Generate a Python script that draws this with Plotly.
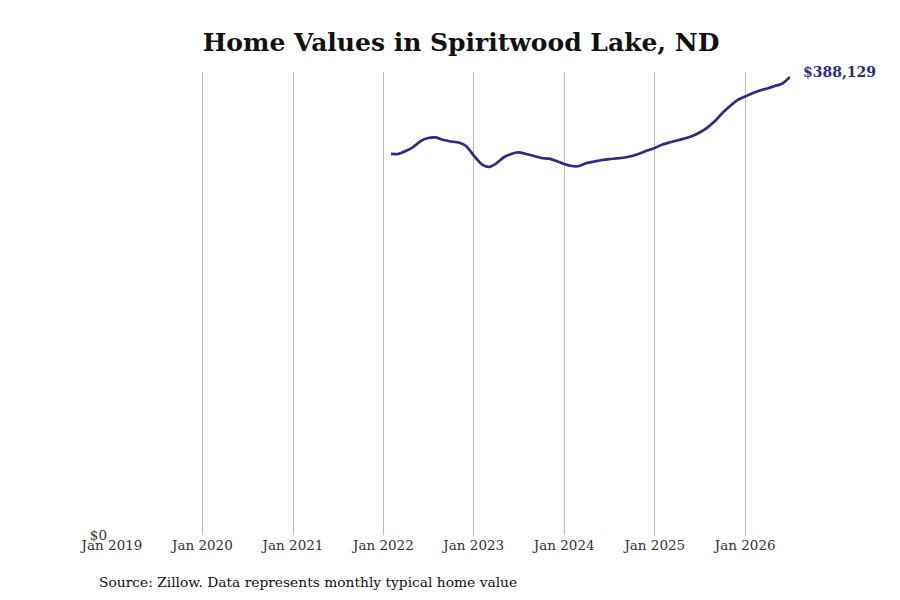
import plotly.graph_objects as go
import pandas as pd

dates = pd.date_range("2022-02-01", "2026-07-01", freq="MS")
values = [
    322900, 322900, 325400, 328800, 333900, 336400, 336900, 334700, 333500, 332600,
    329700, 321600, 314400, 311900, 314800, 319900, 322900, 324200, 322900, 321200,
    319500, 318900, 316900, 314400, 312700, 312700, 315300, 316500, 317800, 318600,
    319100, 319900, 321200, 323300, 325800, 328000, 330900, 332600, 334300, 336000,
    338100, 341100, 345300, 350800, 357600, 363600, 368600, 371600, 374600, 376700,
    378400, 380500, 382600, 388129,
]
tick_dates = pd.date_range("2019-01-01", "2026-01-01", freq="YS")
tick_labels = [d.strftime("Jan %Y") for d in tick_dates]

title = "Home Values in Spiritwood Lake, ND"
source = "Source: Zillow. Data represents monthly typical home value"
line_color = "#2e2a86"
font_family = "DejaVu Serif"

# the page adds an 8px body margin
L, R, T, B = 104, 118, 64, 73
PW, PH = 900 - L - R, 600 - T - B

fig = go.Figure()
fig.add_trace(go.Scatter(
    x=dates, y=values, mode="lines",
    line=dict(color=line_color, width=2.7, shape="spline", smoothing=0.6),
    hoverinfo="skip", showlegend=False,
))

fig.add_annotation(
    x=dates[-1], y=values[-1], xref="x", yref="y",
    text="<b>$" + f"{values[-1]:,}" + "</b>",
    showarrow=False, xanchor="left", yanchor="middle", xshift=11, yshift=5,
    font=dict(family=font_family, size=14, color=line_color),
)
fig.add_annotation(
    x=(89 - L) / PW, xanchor="left",
    y=-(574 - (600 - B)) / PH, yanchor="middle",
    xref="paper", yref="paper", text=source, showarrow=False,
    font=dict(family=font_family, size=13.8, color="#111111"),
)

fig.update_layout(
    width=900, height=600,
    margin=dict(l=L, r=R, t=T, b=B),
    paper_bgcolor="white", plot_bgcolor="white",
    font=dict(family=font_family, size=13.5, color="#333333"),
    title=dict(text="<b>" + title + "</b>", x=453 / 900, xanchor="center",
               y=1 - 34 / 600, yanchor="middle",
               font=dict(family=font_family, size=25, color="#111111")),
    xaxis=dict(
        range=[pd.Timestamp("2019-01-01"), pd.Timestamp("2026-07-01")],
        tickvals=tick_dates, ticktext=tick_labels,
        showgrid=True, gridcolor="#bbbbbb", gridwidth=1,
        zeroline=False, showline=False, ticks="",
        tickfont=dict(family=font_family, size=13.5, color="#333333"),
    ),
    yaxis=dict(
        range=[0, 392366], tickvals=[0], ticktext=["$0"],
        showgrid=False, zeroline=False, showline=False, ticks="",
        ticklabelstandoff=4,
        tickfont=dict(family=font_family, size=13.5, color="#333333"),
    ),
)

fig.write_html("out.html")
